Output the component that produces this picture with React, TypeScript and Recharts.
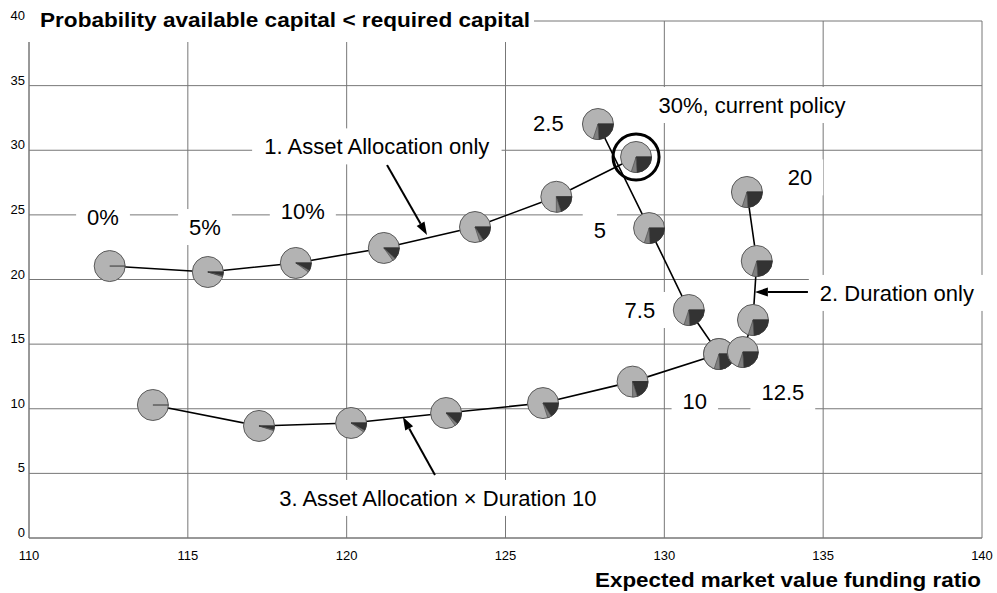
import {
  ScatterChart,
  Scatter,
  XAxis,
  YAxis,
  CartesianGrid,
  ReferenceDot,
  ReferenceLine,
} from "recharts";

const FONT = '"Liberation Sans", Arial, Helvetica, sans-serif';

const xTicks = [110, 115, 120, 125, 130, 135, 140];
const yTicks = [0, 5, 10, 15, 20, 25, 30, 35, 40];

// alloc = % in risky assets (drawn as the dark + mid wedge of each pie)
const allocationOnly = [
  { x: 112.54, y: 21.04, alloc: 0 },
  { x: 115.63, y: 20.58, alloc: 5 },
  { x: 118.4, y: 21.28, alloc: 10 },
  { x: 121.17, y: 22.44, alloc: 15 },
  { x: 124.04, y: 24.06, alloc: 20 },
  { x: 126.6, y: 26.4, alloc: 25 },
  { x: 129.11, y: 29.48, alloc: 30 },
];

const durationOnly = [
  { x: 127.91, y: 32.03, alloc: 30, duration: 2.5 },
  { x: 129.52, y: 23.98, alloc: 30, duration: 5 },
  { x: 130.77, y: 17.64, alloc: 30, duration: 7.5 },
  { x: 131.72, y: 14.24, alloc: 30, duration: 10 },
  { x: 132.47, y: 14.39, alloc: 30, duration: 12.5 },
  { x: 132.79, y: 16.87, alloc: 30, duration: 15 },
  { x: 132.91, y: 21.43, alloc: 30, duration: 17.5 },
  { x: 132.6, y: 26.77, alloc: 30, duration: 20 },
];

const allocationDuration10 = [
  { x: 113.9, y: 10.29, alloc: 0 },
  { x: 117.24, y: 8.67, alloc: 5 },
  { x: 120.14, y: 8.9, alloc: 10 },
  { x: 123.13, y: 9.67, alloc: 15 },
  { x: 126.18, y: 10.44, alloc: 20 },
  { x: 129.0, y: 12.1, alloc: 25 },
  { x: 131.72, y: 14.24, alloc: 30 },
];

const currentPolicy = { x: 129.11, y: 29.48 };

const annotations = [
  { text: "0%", x: 112.33, y: 24.84 },
  { text: "5%", x: 115.54, y: 24.06 },
  { text: "10%", x: 118.62, y: 25.3 },
  { text: "2.5", x: 126.35, y: 32.1 },
  { text: "30%, current policy", x: 132.76, y: 33.5 },
  { text: "20", x: 134.27, y: 27.9 },
  { text: "5", x: 127.97, y: 23.8 },
  { text: "7.5", x: 129.23, y: 17.64 },
  { text: "10", x: 130.96, y: 10.6 },
  { text: "12.5", x: 133.73, y: 11.3 },
  { text: "1. Asset Allocation only", x: 120.95, y: 30.3 },
  { text: "2. Duration only", x: 137.32, y: 18.96 },
  { text: "3. Asset Allocation × Duration 10", x: 122.87, y: 3.1 },
];

const arrows = [
  { from: { x: 121.27, y: 28.86 }, to: { x: 122.53, y: 23.44 } },
  { from: { x: 134.52, y: 19.03 }, to: { x: 132.85, y: 19.03 } },
  { from: { x: 122.78, y: 4.87 }, to: { x: 121.77, y: 9.36 } },
];

const TITLE = "Probability available capital < required capital";
const X_TITLE = "Expected market value funding ratio";

let ctx: CanvasRenderingContext2D | null = null;
function textWidth(s: string, font: string) {
  if (!ctx) ctx = document.createElement("canvas").getContext("2d");
  if (!ctx) return s.length * 11;
  ctx.font = font;
  return ctx.measureText(s).width;
}

function wedge(cx: number, cy: number, r: number, f0: number, f1: number) {
  const a0 = f0 * Math.PI * 2;
  const a1 = f1 * Math.PI * 2;
  const large = f1 - f0 > 0.5 ? 1 : 0;
  return `M${cx},${cy} L${cx + r * Math.cos(a0)},${cy + r * Math.sin(a0)} A${r},${r} 0 ${large} 1 ${
    cx + r * Math.cos(a1)
  },${cy + r * Math.sin(a1)} Z`;
}

const PieMarker = (props: any) => {
  const { cx, cy, payload } = props;
  if (cx == null || cy == null) return <g />;
  const r = 15.5;
  const a = (payload?.alloc ?? 0) / 100;
  const dark = a * 0.8;
  const mid = a * 0.2;
  return (
    <g>
      <circle cx={cx} cy={cy} r={r} fill="#b3b3b3" stroke="#5a5a5a" strokeWidth={1} />
      {dark > 0 && <path d={wedge(cx, cy, r, 0, dark)} fill="#333" stroke="#333" strokeWidth={0.6} />}
      {mid > 0 && <path d={wedge(cx, cy, r, dark, dark + mid)} fill="#7f7f7f" stroke="#444" strokeWidth={0.6} />}
      <line x1={cx} y1={cy} x2={cx + r} y2={cy} stroke="#333" strokeWidth={1} />
    </g>
  );
};

const NoShape = () => <g />;

const BoxLabel = ({ cx, cy, text }: any) => {
  const w = textWidth(text, `22px ${FONT}`) + 22;
  const h = 36;
  return (
    <g>
      <rect x={cx - w / 2} y={cy - h / 2} width={w} height={h} fill="#fff" />
      <text x={cx} y={cy + 8} textAnchor="middle" fontSize={22} fontFamily={FONT} fill="#000">
        {text}
      </text>
    </g>
  );
};

const TitleLabel = ({ cx, cy }: any) => (
  <g>
    <rect x={cx - 2} y={cy - 20} width={507} height={41} fill="#fff" />
    <text
      x={cx + 11}
      y={cy + 6}
      fontSize={20}
      fontWeight="bold"
      fontFamily={FONT}
      fill="#000"
      textLength={490}
      lengthAdjust="spacingAndGlyphs"
    >
      {TITLE}
    </text>
  </g>
);

const XTitleLabel = ({ cx, cy }: any) => (
  <text
    x={cx - 1}
    y={cy + 49}
    textAnchor="end"
    fontSize={20}
    fontWeight="bold"
    fontFamily={FONT}
    fill="#000"
    textLength={386}
    lengthAdjust="spacingAndGlyphs"
  >
    {X_TITLE}
  </text>
);

const Arrow = (p: any) => {
  const { x1, y1, x2, y2 } = p;
  if ([x1, y1, x2, y2].some((v) => v == null || isNaN(v))) return <g />;
  const ang = Math.atan2(y2 - y1, x2 - x1);
  const L = 13;
  const W = 4.5;
  const bx = x2 - L * Math.cos(ang);
  const by = y2 - L * Math.sin(ang);
  const px = -Math.sin(ang) * W;
  const py = Math.cos(ang) * W;
  return (
    <g>
      <line x1={x1} y1={y1} x2={bx} y2={by} stroke="#000" strokeWidth={2} />
      <polygon points={`${x2},${y2} ${bx + px},${by + py} ${bx - px},${by - py}`} fill="#000" />
    </g>
  );
};

const YTick = ({ y, payload }: any) => (
  <text x={25} y={y - 1} textAnchor="end" fontSize={13} fontFamily={FONT} fill="#000">
    {payload.value}
  </text>
);

const XTick = ({ x, y, payload }: any) => (
  <text x={x} y={y + 14} textAnchor="middle" fontSize={13} fontFamily={FONT} fill="#000">
    {payload.value}
  </text>
);

export default function App() {
  return (
    <div style={{ position: "absolute", left: 0, top: 0, width: 997, height: 593, background: "#fff" }}>
      <ScatterChart width={997} height={593} margin={{ top: 21, right: 15, bottom: 25, left: 0 }}>
        <CartesianGrid stroke="#777" strokeWidth={1} />
        <XAxis
          type="number"
          dataKey="x"
          domain={[110, 140]}
          ticks={xTicks}
          interval={0}
          allowDataOverflow
          tick={<XTick />}
          tickLine={false}
          axisLine={{ stroke: "#777" }}
        />
        <YAxis
          type="number"
          dataKey="y"
          domain={[0, 40]}
          ticks={yTicks}
          interval={0}
          width={29}
          allowDataOverflow
          tick={<YTick />}
          tickLine={false}
          axisLine={{ stroke: "#777" }}
        />
        {annotations.map((a) => (
          <ReferenceDot
            key={a.text}
            x={a.x}
            y={a.y}
            r={0}
            ifOverflow="visible"
            shape={(p: any) => <BoxLabel {...p} text={a.text} />}
          />
        ))}
        <Scatter data={allocationOnly} line={{ stroke: "#000", strokeWidth: 1.6 }} lineType="joint" shape={NoShape} isAnimationActive={false} legendType="none" />
        <Scatter data={durationOnly} line={{ stroke: "#000", strokeWidth: 1.6 }} lineType="joint" shape={NoShape} isAnimationActive={false} legendType="none" />
        <Scatter data={allocationDuration10} line={{ stroke: "#000", strokeWidth: 1.6 }} lineType="joint" shape={NoShape} isAnimationActive={false} legendType="none" />
        <Scatter data={allocationOnly} shape={PieMarker} isAnimationActive={false} legendType="none" />
        <Scatter data={allocationDuration10} shape={PieMarker} isAnimationActive={false} legendType="none" />
        <Scatter data={durationOnly} shape={PieMarker} isAnimationActive={false} legendType="none" />
        <ReferenceDot
          x={currentPolicy.x}
          y={currentPolicy.y}
          r={23}
          ifOverflow="visible"
          shape={(p: any) => <circle cx={p.cx} cy={p.cy} r={23} fill="none" stroke="#000" strokeWidth={3} />}
        />
        {arrows.map((a, i) => (
          <ReferenceLine key={i} segment={[a.from, a.to]} ifOverflow="visible" shape={(p: any) => <Arrow {...p} />} />
        ))}
        <ReferenceDot x={110} y={40} r={0} ifOverflow="visible" shape={(p: any) => <TitleLabel {...p} />} />
        <ReferenceDot x={140} y={0} r={0} ifOverflow="visible" shape={(p: any) => <XTitleLabel {...p} />} />
      </ScatterChart>
    </div>
  );
}
